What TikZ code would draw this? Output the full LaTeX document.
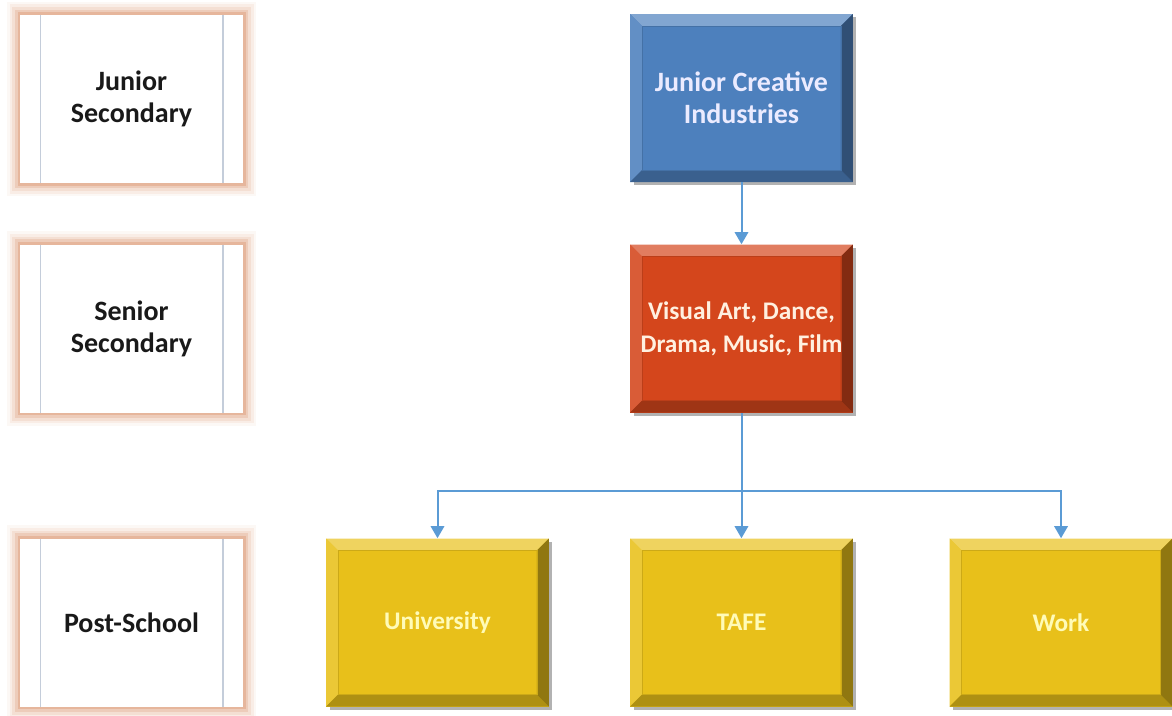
\documentclass[tikz,border=0pt]{standalone}
\usepackage{fontspec}
\setmainfont{Carlito}
\usetikzlibrary{arrows.meta,calc,shadows}

\definecolor{glow}{RGB}{222,160,126}
\definecolor{rulegray}{RGB}{196,205,218}
\definecolor{linkblue}{RGB}{91,155,213}
\definecolor{jcblue}{RGB}{77,128,189}
\definecolor{artred}{RGB}{212,70,28}
\definecolor{postgold}{RGB}{232,192,26}

\tikzset{
  stage/.style={fill=white, minimum width=167pt, minimum height=126pt, align=center,
    font=\fontsize{21}{24}\selectfont\bfseries, text=black!90,
    preaction={draw=glow, line width=20pt, draw opacity=0.08, rounded corners=9pt},
    preaction={draw=glow, line width=16pt, draw opacity=0.12, rounded corners=7pt},
    preaction={draw=glow, line width=12pt, draw opacity=0.18, rounded corners=5pt},
    preaction={draw=glow, line width=8pt, draw opacity=0.3, rounded corners=3pt},
    preaction={draw=glow, line width=4pt, draw opacity=0.5},
    path picture={
      \coordinate (pnw) at (path picture bounding box.north west);
      \coordinate (psw) at (path picture bounding box.south west);
      \coordinate (pne) at (path picture bounding box.north east);
      \coordinate (pse) at (path picture bounding box.south east);
      \draw[rulegray, line width=1pt] ($(pnw)+(20,0)$) -- ($(psw)+(20,0)$)
        ($(pne)+(-20,0)$) -- ($(pse)+(-20,0)$);
    }},
  bevel/.style={fill=#1, minimum width=167pt, minimum height=126pt, align=center,
    drop shadow={shadow xshift=2.5pt, shadow yshift=-2.5pt, fill=black, opacity=0.3},
    path picture={
      \coordinate (pnw) at (path picture bounding box.north west);
      \coordinate (psw) at (path picture bounding box.south west);
      \coordinate (pne) at (path picture bounding box.north east);
      \coordinate (pse) at (path picture bounding box.south east);
      % bevel edges
      \fill[#1!70!white] (pnw) -- (pne) -- ($(pne)+(-12,12)$) -- ($(pnw)+(12,12)$) -- cycle;
      \fill[#1!88!white] (pnw) -- ($(pnw)+(12,12)$) -- ($(psw)+(12,-12)$) -- (psw) -- cycle;
      \fill[#1!75!black] (psw) -- ($(psw)+(12,-12)$) -- ($(pse)+(-12,-12)$) -- (pse) -- cycle;
      \fill[#1!62!black] (pne) -- ($(pne)+(-12,12)$) -- ($(pse)+(-12,-12)$) -- (pse) -- cycle;
      \draw[#1!88!black, line width=0.4pt] ($(pnw)+(12,12)$) rectangle ($(pse)+(-12,-12)$);
    }},
  bigtext/.style={font=\fontsize{21}{24}\selectfont\bfseries},
  smalltext/.style={font=\fontsize{19}{24.5}\selectfont\bfseries},
  link/.style={linkblue, line width=1.5pt, -{Triangle[length=9pt,width=10pt]}},
  linkline/.style={linkblue, line width=1.5pt}
}

\begin{document}
\begin{tikzpicture}[x=0.75pt,y=-0.75pt]
\useasboundingbox (0,0) rectangle (1172,715);

% Level Nodes
\node[stage] (junior) at (131.5,99) {Junior\\Secondary};
\node[stage] (senior) at (131.5,328.5) {Senior\\Secondary};
\node[stage] (post) at (131.5,622.5) {Post-School};

% Pathway Nodes
\node[bevel=jcblue, bigtext, text=white!92!blue] (jci) at (741.5,98) {Junior Creative\\Industries};
\node[bevel=artred, smalltext, text=white!88!orange] (arts) at (741.5,328.5) {Visual Art, Dance,\\Drama, Music, Film};
\node[bevel=postgold, smalltext, text=white!72!yellow] (uni) at (437.5,622.5) {University};
\node[bevel=postgold, smalltext, text=white!72!yellow] (tafe) at (741.5,622.5) {TAFE};
\node[bevel=postgold, smalltext, text=white!72!yellow] (work) at (1061,622.5) {Work};

% Connectors
\coordinate (fork) at ($(arts.south)+(0,78)$);
\draw[link] (jci) -- (arts);
\draw[linkline] (arts) -- (fork);
\draw[link] (fork) -| (uni);
\draw[link] (fork) -- (tafe);
\draw[link] (fork) -| (work);

\end{tikzpicture}
\end{document}
